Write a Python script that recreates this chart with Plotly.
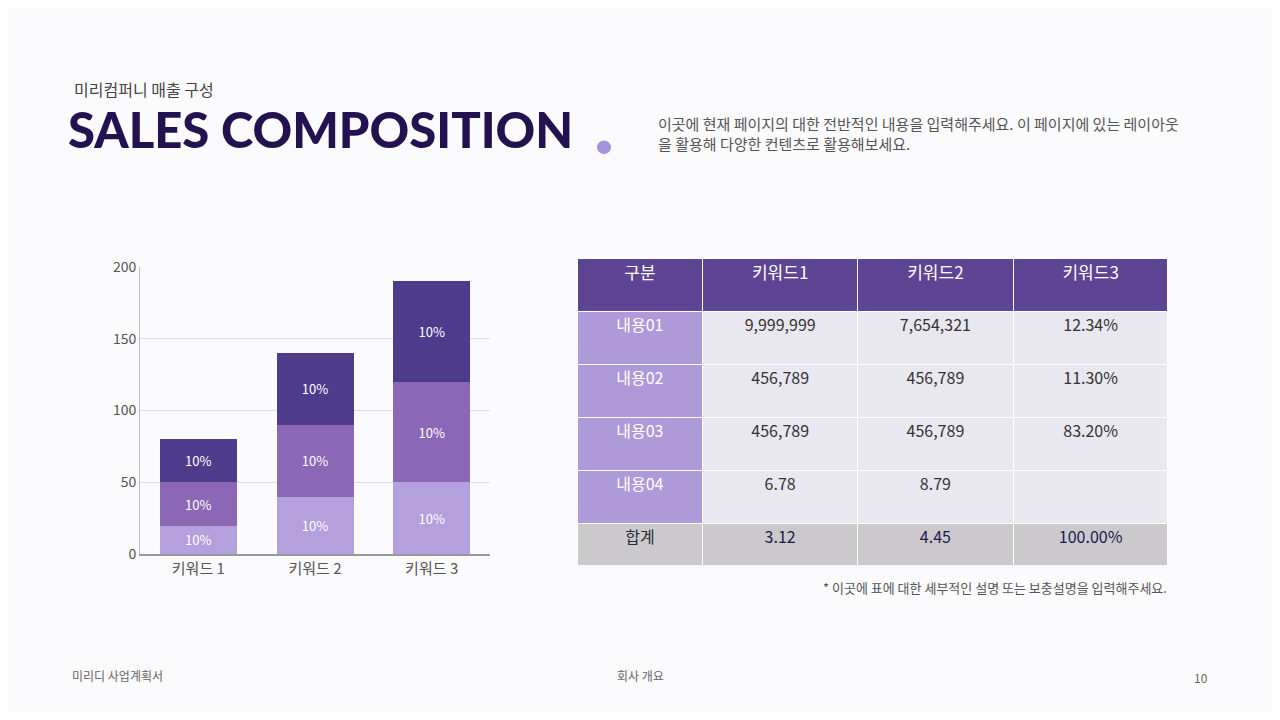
import plotly.graph_objects as go

categories = ["키워드 1", "키워드 2", "키워드 3"]
bottom = [20, 40, 50]
middle = [30, 50, 70]
top = [30, 50, 70]
seg_labels = ["10%", "10%", "10%"]

tbl_header = ["구분", "키워드1", "키워드2", "키워드3"]
row_names = ["내용01", "내용02", "내용03", "내용04", "합계"]
col1 = ["9,999,999", "456,789", "456,789", "6.78", "3.12"]
col2 = ["7,654,321", "456,789", "456,789", "8.79", "4.45"]
col3 = ["12.34%", "11.30%", "83.20%", "", "100.00%"]

W, H = 1264, 704
OFF = 8
def px(x): return (x - OFF) / W
def py(y): return 1 - (y - OFF) / H

fig = go.Figure()
for vals, col in [(bottom, "#b3a0dc"), (middle, "#8b67b5"), (top, "#4e3b8c")]:
    fig.add_trace(go.Bar(x=categories, y=vals, marker=dict(color=col, line_width=0),
                         text=seg_labels, textposition="inside", insidetextanchor="middle",
                         textfont=dict(color="white", size=13, family="Noto Sans CJK KR"),
                         width=0.66, hoverinfo="skip"))

body_fill = "#e9e7f0"
fig.add_trace(go.Table(
    domain=dict(x=[px(577), px(1168)], y=[py(571), py(254)]),
    columnwidth=[126, 155, 156, 155],
    header=dict(values=tbl_header, fill_color="#5e4593", height=53,
                line=dict(color="white", width=1),
                font=dict(color="white", size=17, family="Noto Sans CJK KR"), align="center"),
    cells=dict(values=[row_names, col1, col2, col3], height=53,
               line=dict(color="white", width=1), align="center",
               fill_color=[["#ae9ad9"]*4 + ["#cbc9cc"]] + [[body_fill]*4 + ["#cbc9cc"]]*3,
               font=dict(size=16, family="Noto Sans CJK KR",
                         color=[["white"]*4 + ["#2a2a3a"]] + [["#333"]*4 + ["#1f1750"]]*3)),
))

fig.update_layout(
    width=W, height=H, barmode="stack", showlegend=False,
    paper_bgcolor="#fbfafd", plot_bgcolor="#fbfafd",
    margin=dict(l=0, r=0, t=0, b=0),
    xaxis=dict(domain=[px(140), px(490)], showline=True, linecolor="#999", linewidth=1.5,
               tickfont=dict(size=15, color="#555", family="Noto Sans CJK KR"), ticks=""),
    yaxis=dict(domain=[py(559), py(263)], range=[0, 200], dtick=50, gridcolor="#dddde2",
               showline=True, linecolor="#bbb", zeroline=False,
               tickfont=dict(size=14, color="#555", family="Noto Sans CJK KR")),
    font=dict(family="Noto Sans CJK KR"),
)

def ann(x, y, text, size, color, weight=400, xanchor="left", family="Noto Sans CJK KR"):
    fig.add_annotation(x=px(x), y=py(y), xref="paper", yref="paper", text=text, showarrow=False,
                       xanchor=xanchor, yanchor="middle", align="left",
                       font=dict(size=size, color=color, family=family, weight=weight))

ann(72, 80, "미리컴퍼니 매출 구성", 16, "#444")
ann(66, 121, "SALES COMPOSITION", 49, "#23124f", 900, family="Lato")
ann(656, 126, "이곳에 현재 페이지의 대한 전반적인 내용을 입력해주세요. 이 페이지에 있는 레이아웃<br>을 활용해 다양한 컨텐츠로 활용해보세요.", 15, "#555")
ann(1169, 593, "* 이곳에 표에 대한 세부적인 설명 또는 보충설명을 입력해주세요.", 13, "#555", xanchor="right")
ann(70, 684, "미리디 사업계획서", 12, "#666")
ann(640, 684, "회사 개요", 12, "#666", xanchor="center")
ann(1210, 686, "10", 12, "#666", xanchor="right")
fig.add_shape(type="circle", xref="paper", yref="paper", x0=px(597), x1=px(611), y0=py(147), y1=py(133),
              fillcolor="#a593dd", line_width=0)

fig.write_html("out.html")
